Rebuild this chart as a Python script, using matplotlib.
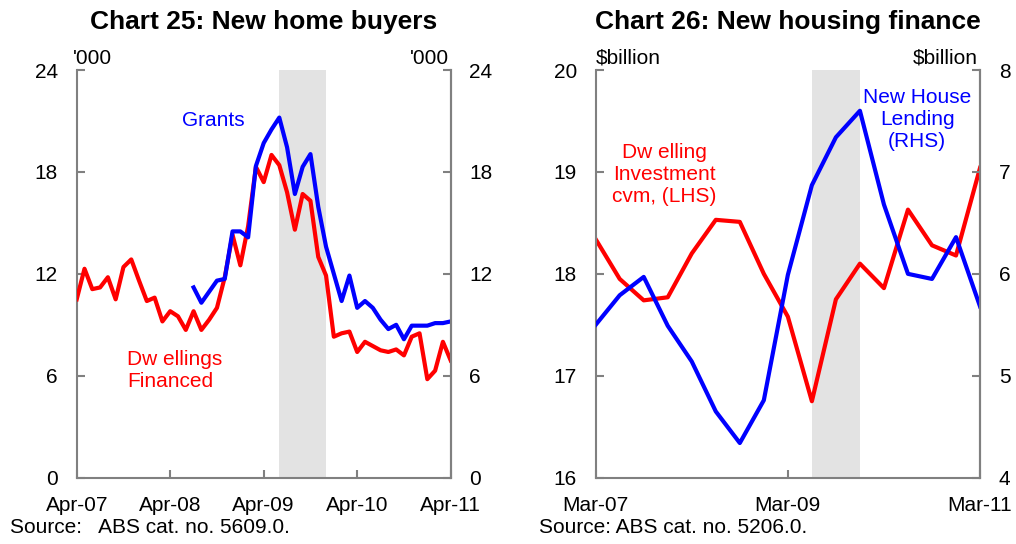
import numpy as np
import matplotlib
matplotlib.use('Agg')
import matplotlib.pyplot as plt

plt.rcParams['font.family'] = ['Liberation Sans', 'DejaVu Sans']

# Chart 25: monthly, Apr-07 to Apr-11 ('000)
dwellings_financed = [10.5, 12.3, 11.1, 11.2, 11.8, 10.5, 12.4, 12.85, 11.6, 10.4,
                      10.6, 9.2, 9.8, 9.5, 8.7, 9.8, 8.7, 9.3, 10.0, 11.8,
                      14.3, 12.5, 14.8, 18.3, 17.4, 19.0, 18.4, 16.8, 14.6, 16.7,
                      16.3, 13.0, 11.9, 8.3, 8.5, 8.6, 7.4, 8.0, 7.75, 7.5,
                      7.4, 7.55, 7.2, 8.3, 8.5, 5.8, 6.3, 8.0, 6.9]
grants = [np.nan] * 15 + [11.2, 10.3, 10.95, 11.6, 11.7, 14.5, 14.5, 14.15, 18.35, 19.7,
                          20.5, 21.2, 19.45, 16.7, 18.3, 19.05, 15.95, 13.6, 12.0, 10.4,
                          11.9, 10.0, 10.4, 10.0, 9.3, 8.75, 9.0, 8.15, 8.95, 8.95,
                          8.95, 9.1, 9.1, 9.2]
month_labels = ['Apr-07', 'Apr-08', 'Apr-09', 'Apr-10', 'Apr-11']

# Chart 26: quarterly, Mar-07 to Mar-11 ($billion)
dwelling_investment = [18.34, 17.95, 17.74, 17.77, 18.2, 18.53, 18.51, 18.0, 17.58,
                       16.75, 17.75, 18.1, 17.86, 18.63, 18.28, 18.18, 19.04]
new_house_lending = [5.5, 5.79, 5.97, 5.49, 5.14, 4.65, 4.34, 4.76, 5.99,
                     6.87, 7.34, 7.6, 6.68, 6.0, 5.95, 6.36, 5.68]
quarter_labels = ['Mar-07', 'Mar-09', 'Mar-11']

RED = '#ff0000'
BLUE = '#0000ff'
GREY = '#808080'
SHADE = '#e3e3e3'
FS = 15
TITLE_Y = (477.7 - 22) / 407.7

fig = plt.figure(figsize=(10.16, 5.44), dpi=100)


def style_axes(ax, side):
    ax.spines['top'].set_visible(False)
    for s in ['left', 'right', 'bottom']:
        ax.spines[s].set_color(GREY)
        ax.spines[s].set_linewidth(1.5)
    ax.tick_params(axis='y', direction='in', length=6, width=1.5, color=GREY,
                   labelsize=FS, pad=13.5, left=(side == 'left'), right=(side == 'right'),
                   labelleft=(side == 'left'), labelright=(side == 'right'))
    ax.tick_params(axis='x', direction='in', length=6, width=1.5, color=GREY,
                   labelsize=FS, pad=13)


# ---- Chart 25 ----
ax1 = fig.add_axes([0.0755, 0.1219, 0.3681, 0.7494])
ax1r = ax1.twinx()
x1 = np.arange(len(dwellings_financed))
ax1.axvspan(26, 32, color=SHADE, lw=0, zorder=0)
ax1.plot(x1, dwellings_financed, color=RED, lw=3, zorder=3)
ax1.plot(x1, grants, color=BLUE, lw=3, zorder=4)
ax1.set_xlim(0, 48)
ax1.set_ylim(0, 24)
ax1.set_yticks(np.arange(0, 25, 6))
ax1.set_xticks(np.arange(0, 49, 12))
ax1.set_xticklabels(month_labels)
ax1r.set_ylim(0, 24)
ax1r.set_yticks(np.arange(0, 25, 6))
style_axes(ax1, 'left')
style_axes(ax1r, 'right')
ax1r.spines['left'].set_visible(False)
ax1r.spines['bottom'].set_visible(False)

ax1.text(0.5, TITLE_Y, 'Chart 25: New home buyers', transform=ax1.transAxes,
         ha='center', va='center', fontsize=19, fontweight='bold')
ax1.text(-0.01, 1.005, "'000", transform=ax1.transAxes, ha='left', va='bottom', fontsize=FS)
ax1.text(0.995, 1.005, "'000", transform=ax1.transAxes, ha='right', va='bottom', fontsize=FS)
ax1.text(21.6, 21.0, 'Grants', color=BLUE, fontsize=FS, ha='right', va='center')
ax1.text(6.5, 6.3, 'Dw ellings\nFinanced', color=RED, fontsize=FS, ha='left', va='center',
         linespacing=1.2)
fig.text(0.01, 0.012, 'Source:   ABS cat. no. 5609.0.', fontsize=FS, ha='left', va='bottom')

# ---- Chart 26 ----
ax2 = fig.add_axes([0.5863, 0.1219, 0.3783, 0.7494])
ax2r = ax2.twinx()
x2 = np.arange(len(dwelling_investment))
ax2.axvspan(9, 11, color=SHADE, lw=0, zorder=0)
ax2.plot(x2, dwelling_investment, color=RED, lw=3)
ax2r.plot(x2, new_house_lending, color=BLUE, lw=3)
ax2.set_xlim(0, 16)
ax2.set_ylim(16, 20)
ax2.set_yticks(np.arange(16, 20.1, 1))
ax2.set_xticks([0, 8, 16])
ax2.set_xticklabels(quarter_labels)
ax2r.set_ylim(4, 8)
ax2r.set_yticks(np.arange(4, 8.1, 1))
style_axes(ax2, 'left')
style_axes(ax2r, 'right')
ax2r.spines['left'].set_visible(False)
ax2r.spines['bottom'].set_visible(False)

ax2.text(0.5, TITLE_Y, 'Chart 26: New housing finance', transform=ax2.transAxes,
         ha='center', va='center', fontsize=19, fontweight='bold')
ax2.text(0.0, 1.005, '$billion', transform=ax2.transAxes, ha='left', va='bottom', fontsize=FS)
ax2.text(0.995, 1.005, '$billion', transform=ax2.transAxes, ha='right', va='bottom', fontsize=FS)
ax2.text(2.85, 18.97, 'Dw elling\nInvestment\ncvm, (LHS)', color=RED, fontsize=FS,
         ha='center', va='center', linespacing=1.2)
ax2r.text(13.38, 7.51, 'New House\nLending\n(RHS)', color=BLUE, fontsize=FS,
          ha='center', va='center', linespacing=1.2)
fig.text(0.531, 0.012, 'Source: ABS cat. no. 5206.0.', fontsize=FS, ha='left', va='bottom')

fig.savefig('out.png', dpi=100)
